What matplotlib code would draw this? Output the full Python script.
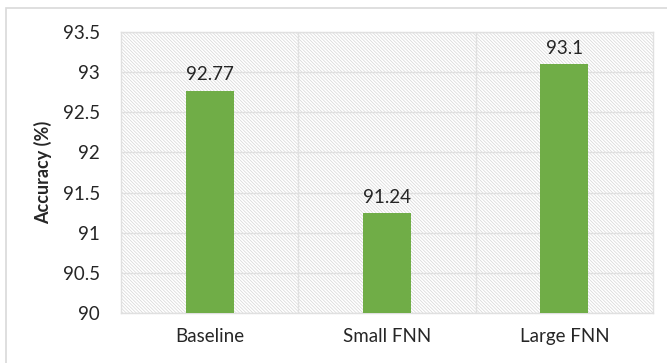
import matplotlib
matplotlib.use("Agg")
import matplotlib.pyplot as plt
from matplotlib.patches import Rectangle

categories = ["Baseline", "Small FNN", "Large FNN"]
accuracy = [92.77, 91.24, 93.1]
value_labels = ["92.77", "91.24", "93.1"]
yticks = [90, 90.5, 91, 91.5, 92, 92.5, 93, 93.5]
ytick_labels = ["90", "90.5", "91", "91.5", "92", "92.5", "93", "93.5"]

plt.rcParams['font.family'] = ['Lato', 'DejaVu Sans']
plt.rcParams['hatch.linewidth'] = 0.5

W, H = 667, 363
fig = plt.figure(figsize=(W/100, H/100), dpi=100)
fig.patches.append(Rectangle((6/W, -0.1), 1.1, 1 - 8/H + 0.1, transform=fig.transFigure,
                             fill=False, edgecolor='#d9d9d9', linewidth=1.2, figure=fig))
ax = fig.add_axes([121/W, 1 - 313/H, (653-121)/W, (313-32)/H])

ax.add_patch(Rectangle((0, 0), 1, 1, transform=ax.transAxes, facecolor='white',
                       edgecolor='#d6d6d6', linewidth=0, hatch='\\' * 10, zorder=0))

x = list(range(len(categories)))
ax.bar(x, accuracy, width=0.27, color='#70AD47', zorder=3)
for xi, v, lab in zip(x, accuracy, value_labels):
    ax.text(xi, v + 0.09, lab, ha='center', va='bottom', fontsize=13.5, color='#262626', zorder=4)

ax.set_xlim(-0.5, 2.5)
ax.set_ylim(90, 93.5)
ax.set_yticks(yticks)
ax.set_yticklabels(ytick_labels)
ax.set_xticks(x)
ax.set_xticklabels(categories)
for b in [0.5, 1.5]:
    ax.axvline(b, color='#e0e0e0', linewidth=1, zorder=1)
ax.yaxis.grid(True, color='#e0e0e0', linewidth=1, zorder=1)
ax.set_axisbelow(True)
for s in ax.spines.values():
    s.set_color('#e0e0e0')
    s.set_linewidth(1)
ax.tick_params(axis='both', length=0, labelsize=13.5, colors='#262626')
ax.tick_params(axis='y', pad=15)
ax.tick_params(axis='x', pad=11)
ax.set_ylabel('Accuracy (%)', fontsize=13, fontweight='bold', color='#262626', labelpad=8)

fig.savefig('out.png', dpi=100)
